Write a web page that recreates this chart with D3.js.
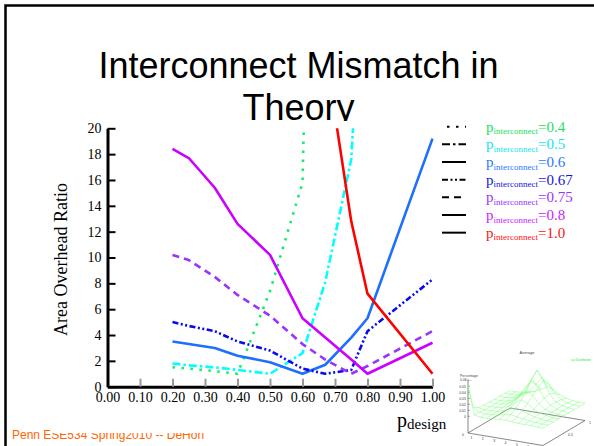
<!DOCTYPE html>
<html>
<head>
<meta charset="utf-8">
<script src="https://cdn.jsdelivr.net/npm/d3@7"></script>
<style>
  html, body { margin: 0; padding: 0; background: #fff; }
  svg { display: block; }
</style>
</head>
<body>
<script>
// ---- data ----
const pDesign = [0.20, 0.25, 0.33, 0.40, 0.50, 0.60, 0.67, 0.75, 0.80, 1.00];
const ratio04  = [1.5, 1.4, 1.2, 1.0, 7.4, 15.8, 90];
const ratio05  = [1.8, 1.65, 1.5, 1.3, 1.0, 2.6, 8.1, 17.6, 40];
const ratio06  = [3.5, 3.3, 3.0, 2.4, 1.9, 1.0, 1.7, 3.8, 5.3, 19.2];
const ratio067 = [5.0, 4.7, 4.3, 3.5, 2.8, 1.4, 1.0, 1.3, 4.3, 8.3];
const ratio075 = [10.2, 9.8, 8.5, 7.1, 5.5, 3.3, 2.1, 1.0, 1.6, 4.3];
const ratio08  = [18.4, 17.7, 15.4, 12.6, 10.2, 5.3, 3.8, 2.1, 1.0, 3.4];
const ratio10  = [null, null, null, null, null, null, 26, 12.8, 7.2, 1.0];

const xTicks = [0.0, 0.1, 0.2, 0.3, 0.4, 0.5, 0.6, 0.7, 0.8, 0.9, 1.0];
const yTicks = [0, 2, 4, 6, 8, 10, 12, 14, 16, 18, 20];

// inset surface: share of designs over a 9 x 13 grid
const insetHeights = [
  [0.052,0.004,0.002,0.002,0.003,0.003,0.004,0.003,0.002,0.002,0.002,0.001,0.001],
  [0.010,0.003,0.002,0.003,0.004,0.006,0.008,0.006,0.004,0.003,0.002,0.001,0.001],
  [0.004,0.002,0.002,0.003,0.006,0.010,0.014,0.011,0.007,0.004,0.002,0.001,0.001],
  [0.003,0.002,0.003,0.004,0.008,0.016,0.022,0.018,0.010,0.005,0.003,0.001,0.001],
  [0.003,0.002,0.003,0.005,0.012,0.024,0.032,0.026,0.014,0.006,0.003,0.002,0.001],
  [0.002,0.002,0.003,0.006,0.015,0.030,0.046,0.034,0.018,0.008,0.003,0.002,0.001],
  [0.002,0.002,0.003,0.006,0.016,0.036,0.056,0.040,0.020,0.008,0.004,0.002,0.001],
  [0.002,0.002,0.002,0.005,0.012,0.026,0.038,0.030,0.016,0.007,0.003,0.002,0.001],
  [0.001,0.001,0.002,0.003,0.007,0.012,0.018,0.014,0.008,0.004,0.002,0.001,0.001]
];
const insetZTicks = [0, 0.01, 0.02, 0.03, 0.04, 0.05];
const insetXTicks = ["1", "2", "3", "4", "5", "6"];

// ---- styling per series ----
const series = [
  { name: "0.4",  values: ratio04,  color: "#11EE66", text: "#22E066", dash: "2.5,6.5" },
  { name: "0.5",  values: ratio05,  color: "#00FFFF", text: "#11E5F0", dash: "8,3,2.5,3" },
  { name: "0.6",  values: ratio06,  color: "#1E6EFF", text: "#2A78FF", dash: null },
  { name: "0.67", values: ratio067, color: "#0A0AEE", text: "#1515DD", dash: "6,2.5,2,2.5,2,2.5" },
  { name: "0.75", values: ratio075, color: "#9933FF", text: "#9933FF", dash: "7,5" },
  { name: "0.8",  values: ratio08,  color: "#CC00FF", text: "#CC22FF", dash: null },
  { name: "1.0",  values: ratio10,  color: "#FF0000", text: "#FF1111", dash: null }
];

const W = 594, H = 446;
const svg = d3.select("body").append("svg").attr("width", W).attr("height", H);

// slide frame
svg.append("rect").attr("x", 5.5).attr("y", 5.5).attr("width", 640).attr("height", 480)
  .attr("fill", "none").attr("stroke", "#000").attr("stroke-width", 2.5);

// slide title
const title = svg.append("text")
  .attr("text-anchor", "middle")
  .attr("font-family", "Liberation Sans, Arial, sans-serif")
  .attr("font-size", 36).attr("fill", "#000");
title.append("tspan").attr("x", 298.5).attr("y", 78).text("Interconnect Mismatch in");
title.append("tspan").attr("x", 298.5).attr("y", 119.5).text("Theory");

// footer
svg.append("text").attr("x", 12).attr("y", 439)
  .attr("font-family", "Liberation Sans, Arial, sans-serif")
  .attr("font-size", 12).attr("fill", "#FF6600")
  .text("Penn ESE534 Spring2010 -- DeHon");

// chart panel background
svg.append("rect").attr("x", 50).attr("y", 121).attr("width", W - 50).attr("height", 312)
  .attr("fill", "#fff");

// ---- main chart ----
const x = d3.scaleLinear().domain([0, 1]).range([107.5, 432.5]);
const y = d3.scaleLinear().domain([0, 20]).range([386.7, 128.3]);

const serif = "Liberation Serif, Times New Roman, serif";

svg.append("clipPath").attr("id", "plotClip")
  .append("rect").attr("x", x(0)).attr("y", y(20)).attr("width", x(1) - x(0) + 3).attr("height", y(0) - y(20));

const lineGen = d3.line()
  .defined(d => d[1] !== null)
  .x(d => x(d[0]))
  .y(d => y(d[1]));

const plot = svg.append("g").attr("clip-path", "url(#plotClip)");
series.forEach(s => {
  const pts = s.values.map((v, i) => [pDesign[i], v]);
  plot.append("path")
    .attr("d", lineGen(pts))
    .attr("fill", "none")
    .attr("stroke", s.color)
    .attr("stroke-width", 2.6)
    .attr("stroke-linejoin", "round")
    .attr("stroke-dasharray", s.dash);
});

// x axis
const xAxis = svg.append("g").attr("transform", `translate(0,${y(0)})`)
  .call(d3.axisBottom(x).tickValues(xTicks).tickFormat(d3.format(".2f"))
    .tickSize(-8).tickSizeOuter(0).tickPadding(5));
xAxis.select(".domain").attr("stroke", "#000").attr("stroke-width", 3);
xAxis.selectAll(".tick line").attr("stroke", "#999").attr("stroke-width", 2);
xAxis.selectAll(".tick text").attr("font-family", serif).attr("font-size", 14).attr("fill", "#000");

// y axis
const yAxis = svg.append("g").attr("transform", `translate(${x(0)},0)`)
  .call(d3.axisLeft(y).tickValues(yTicks).tickFormat(d3.format("d"))
    .tickSize(-8).tickSizeOuter(0).tickPadding(6));
yAxis.select(".domain").attr("stroke", "#000").attr("stroke-width", 3);
yAxis.selectAll(".tick line").attr("stroke", "#000").attr("stroke-width", 2);
yAxis.selectAll(".tick text").attr("font-family", serif).attr("font-size", 14).attr("fill", "#000");

// axis titles
svg.append("text")
  .attr("transform", "translate(67,259.5) rotate(-90)")
  .attr("text-anchor", "middle")
  .attr("font-family", serif).attr("font-size", 18).attr("fill", "#000")
  .text("Area Overhead Ratio");

const xt = svg.append("text").attr("x", 397).attr("y", 427)
  .attr("font-family", serif).attr("fill", "#000");
xt.append("tspan").attr("font-size", 20).text("p");
xt.append("tspan").attr("font-size", 15).attr("dy", 2).text("design");

// legend
const legend = svg.append("g");
series.forEach((s, i) => {
  const ly = 126.7 + i * 17.66;
  legend.append("line")
    .attr("x1", s.name === "0.4" ? 447 : 442).attr("x2", 466)
    .attr("y1", ly).attr("y2", ly)
    .attr("stroke", "#000").attr("stroke-width", 2)
    .attr("stroke-dasharray", s.dash);
  const t = legend.append("text").attr("x", 486).attr("y", ly + 5)
    .attr("font-family", serif).attr("fill", s.text);
  t.append("tspan").attr("font-size", 15).text("p");
  t.append("tspan").attr("font-size", 9).attr("dy", 2.5).text("interconnect");
  t.append("tspan").attr("font-size", 15).attr("dy", -2.5).text("=" + s.name);
});

// ---- inset surface plot ----
const inset = svg.append("g");
inset.append("rect").attr("x", 447).attr("y", 345).attr("width", W - 447).attr("height", H - 345)
  .attr("fill", "#fff");

const A = [468, 433], U = [75, 12.5], V = [42, -25], zLift = 16.7, zScale = 600;
const proj = (u, v, z) => [A[0] + u * U[0] + v * V[0], A[1] - zLift + u * U[1] + v * V[1] - z * zScale];
const floor = (u, v) => [A[0] + u * U[0] + v * V[0], A[1] + u * U[1] + v * V[1]];

const axisCol = "#555";
const floorPts = [floor(0, 0), floor(1, 0), floor(1, 1), floor(0, 1), floor(0, 0)];
inset.append("path").attr("d", d3.line()(floorPts)).attr("fill", "none")
  .attr("stroke", axisCol).attr("stroke-width", 0.7);
inset.append("line").attr("x1", A[0]).attr("x2", A[0]).attr("y1", A[1]).attr("y2", A[1] - zLift - 0.062 * zScale)
  .attr("stroke", axisCol).attr("stroke-width", 0.7);

const tiny = "Liberation Sans, Arial, sans-serif";
insetZTicks.forEach(z => {
  const py = A[1] - zLift - z * zScale;
  inset.append("line").attr("x1", A[0]).attr("x2", A[0] + 2).attr("y1", py).attr("y2", py)
    .attr("stroke", axisCol).attr("stroke-width", 0.5);
  inset.append("text").attr("x", A[0] - 2).attr("y", py + 1.2).attr("text-anchor", "end")
    .attr("font-family", tiny).attr("font-size", 3.5).attr("fill", "#444").text(String(z));
});
inset.append("text").attr("x", 460).attr("y", 377).attr("font-family", tiny).attr("font-size", 3.5)
  .attr("fill", "#444").text("Percentage");
inset.append("text").attr("x", 460).attr("y", 381).attr("font-family", tiny).attr("font-size", 3.5)
  .attr("fill", "#444").text("0.06 \u2014");
inset.append("text").attr("x", 527).attr("y", 354).attr("text-anchor", "middle").attr("font-family", tiny)
  .attr("font-size", 4).attr("fill", "#444").text("Average");
inset.append("text").attr("x", 571).attr("y", 361).attr("font-family", tiny)
  .attr("font-size", 3).attr("fill", "#33DD33").text("x p Distribution");

insetXTicks.forEach((lbl, i) => {
  const p = floor((i + 0.3) / 6.6, 0);
  inset.append("text").attr("x", p[0]).attr("y", p[1] + 5).attr("text-anchor", "middle")
    .attr("font-family", tiny).attr("font-size", 3.5).attr("fill", "#444").text(lbl);
});
[["0.5", 0.5], ["1", 1]].forEach(([lbl, v]) => {
  const p = floor(1, v);
  inset.append("text").attr("x", p[0] + 4).attr("y", p[1] + 3).attr("font-family", tiny)
    .attr("font-size", 3.5).attr("fill", "#444").text(lbl);
});
inset.append("text").attr("x", 462).attr("y", 436).attr("font-family", tiny)
  .attr("font-size", 3.5).attr("fill", "#444").text("0");

const nv = insetHeights.length, nu = insetHeights[0].length;
const wire = inset.append("g").attr("fill", "none").attr("stroke", "#7CFF7C").attr("stroke-width", 0.5);
insetHeights.forEach((row, j) => {
  const pts = row.map((z, i) => proj(i / (nu - 1), j / (nv - 1), z));
  wire.append("path").attr("d", d3.line()(pts));
});
for (let i = 0; i < nu; i++) {
  const pts = insetHeights.map((row, j) => proj(i / (nu - 1), j / (nv - 1), row[i]));
  wire.append("path").attr("d", d3.line()(pts));
}
</script>
</body>
</html>
